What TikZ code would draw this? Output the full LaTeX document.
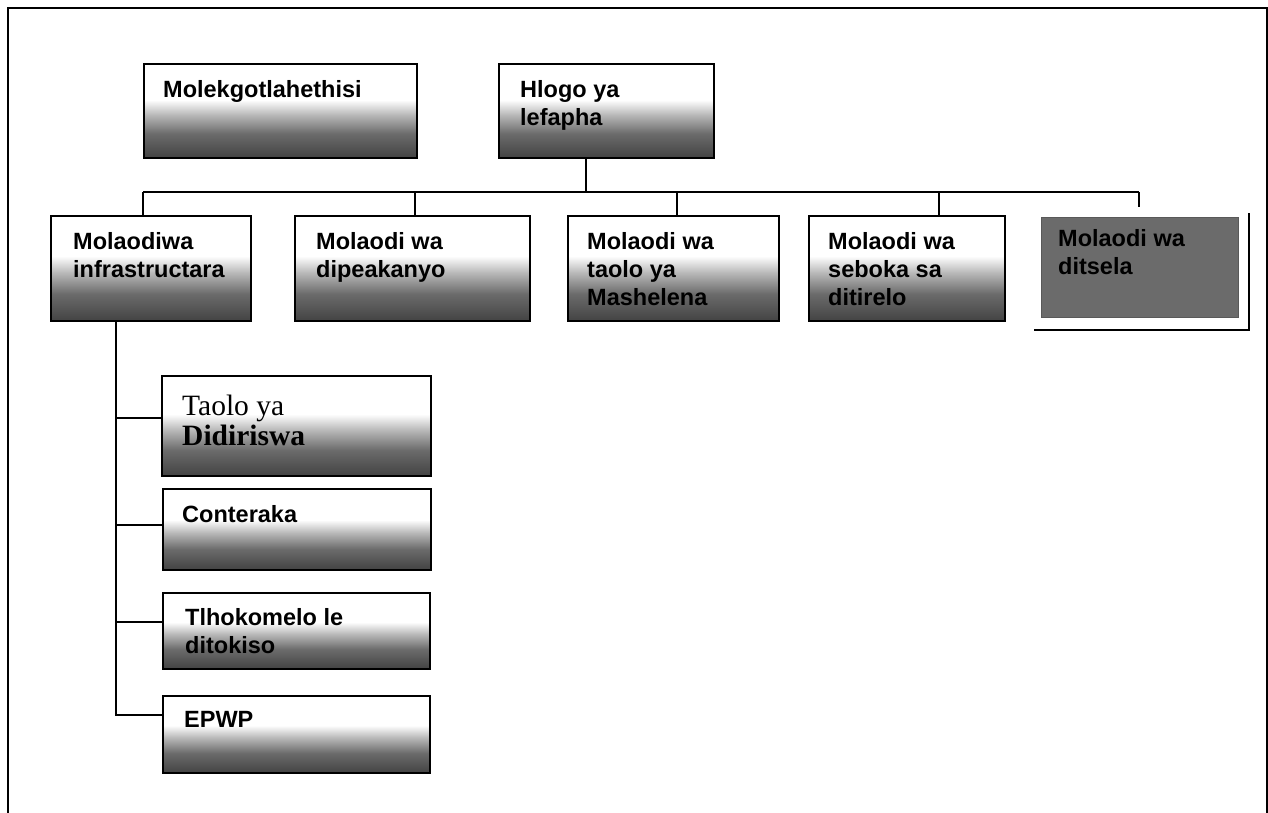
\documentclass[tikz,border=0pt]{standalone}
\usepackage{fontspec}
\setmainfont{Liberation Sans}
\newfontfamily\serifface{Liberation Serif}
\usetikzlibrary{calc}
\pgfdeclareverticalshading{grass}{100bp}{color(0bp)=(black!74); color(25bp)=(black!74); color(38bp)=(black!58); color(48bp)=(black!28); color(56bp)=(white); color(100bp)=(white)}
\begin{document}
\begin{tikzpicture}[x=1pt,y=-1pt,
  box/.style={draw=black, line width=2.4pt, shading=grass, anchor=north west, inner sep=0pt},
  darkbox/.style={draw=black!65, line width=1pt, fill=black!58, anchor=north west, inner sep=0pt},
  lbl/.style={anchor=north west, inner sep=0pt, align=left, font=\fontsize{23.5}{28}\selectfont\bfseries},
  slbl/.style={anchor=north west, inner sep=0pt, align=left, font=\serifface\fontsize{29.5}{30}\selectfont},
  link/.style={line width=2pt, draw=black},
  frame/.style={line width=2pt, draw=black}
]
\useasboundingbox (0,0) rectangle (1268,813);
\fill[white] (0,0) rectangle (1268,813);
% outer frame
\draw[frame] (8,813) -- (8,8) -- (1267,8) -- (1267,813);

% top row
\node[box, minimum width=273pt, minimum height=94pt] (mk) at (143,63) {};
\node[lbl] (mkt) at ([xshift=20pt,yshift=-17pt]mk.north west) {Molekgotlahethisi};
\node[box, minimum width=215pt, minimum height=94pt] (hl) at (498,63) {};
\node[lbl] (hlt) at ([xshift=22pt,yshift=-17pt]hl.north west) {Hlogo ya\\lefapha};

% second row
\node[box, minimum width=200pt, minimum height=105pt] (mi) at (50,215) {};
\node[lbl] (mit) at ([xshift=23pt,yshift=-17pt]mi.north west) {Molaodiwa\\infrastructara};
\node[box, minimum width=235pt, minimum height=105pt] (md) at (294,215) {};
\node[lbl] (mdt) at ([xshift=22pt,yshift=-17pt]md.north west) {Molaodi wa\\dipeakanyo};
\node[box, minimum width=211pt, minimum height=105pt] (mt) at (567,215) {};
\node[lbl] (mtt) at ([xshift=20pt,yshift=-17pt]mt.north west) {Molaodi wa\\taolo ya\\Mashelena};
\node[box, minimum width=196pt, minimum height=105pt] (ms) at (808,215) {};
\node[lbl] (mst) at ([xshift=20pt,yshift=-17pt]ms.north west) {Molaodi wa\\seboka sa\\ditirelo};
\node[darkbox, minimum width=197pt, minimum height=100pt] (ds) at (1041,217) {};
\node[lbl] (dst) at ([xshift=17pt,yshift=-12pt]ds.north west) {Molaodi wa\\ditsela};
\draw[line width=2pt] ([shift={(10pt,4pt)}]ds.north east) -- ([shift={(10pt,-12pt)}]ds.south east) -- ([shift={(-7pt,-12pt)}]ds.south west);

% sub boxes
\node[box, minimum width=269pt, minimum height=100pt] (td) at (161,375) {};
\node[slbl] (tdt) at ([xshift=21pt,yshift=-20pt]td.north west) {Taolo ya\\\textbf{Didiriswa}};
\node[box, minimum width=268pt, minimum height=81pt] (co) at (162,488) {};
\node[lbl] (cot) at ([xshift=20pt,yshift=-17pt]co.north west) {Conteraka};
\node[box, minimum width=267pt, minimum height=76pt] (tk) at (162,592) {};
\node[lbl] (tkt) at ([xshift=23pt,yshift=-16pt]tk.north west) {Tlhokomelo le\\ditokiso};
\node[box, minimum width=267pt, minimum height=77pt] (ep) at (162,695) {};
\node[lbl] (ept) at ([xshift=22pt,yshift=-16pt]ep.north west) {EPWP};

% connectors
\coordinate (busL) at (143,192);
\coordinate (busR) at (1139,192);
\coordinate (hj) at (586,192);
\coordinate (j2) at (415,192);
\coordinate (j3) at (677,192);
\coordinate (j4) at (939,192);
\coordinate (de) at (1139,207);
\draw[link] (hl.south -| hj) -- (hj);
\draw[link] (busL) -- (busR);
\draw[link] (busL) -- (busL |- mi.north);
\draw[link] (j2) -- (j2 |- md.north);
\draw[link] (j3) -- (j3 |- mt.north);
\draw[link] (j4) -- (j4 |- ms.north);
\draw[link] (busR) -- (de);

\coordinate (k1) at (116,418);
\coordinate (k2) at (116,525);
\coordinate (k3) at (116,622);
\coordinate (k4) at (116,715);
\draw[link] (k4 |- mi.south) -- (k4) -- (k4 -| ep.west);
\draw[link] (k1) -- (k1 -| td.west);
\draw[link] (k2) -- (k2 -| co.west);
\draw[link] (k3) -- (k3 -| tk.west);
\end{tikzpicture}
\end{document}
